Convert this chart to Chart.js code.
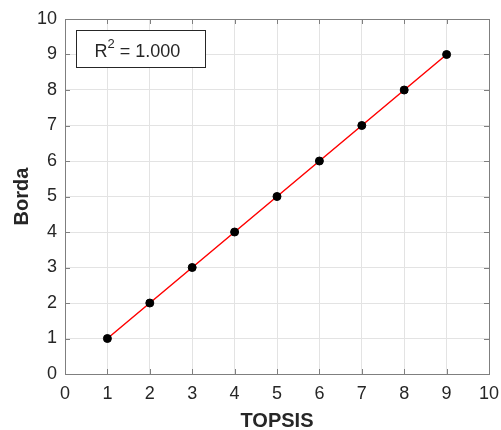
<!DOCTYPE html>
<html>
<head>
<meta charset="utf-8">
<script src="https://cdn.jsdelivr.net/npm/chart.js@4"></script>
<style>
  body { margin: 0; background: #fff; }
  #wrap { width: 501px; height: 430px; }
</style>
</head>
<body>
<div id="wrap"><canvas id="myChart" width="501" height="430"></canvas></div>
<script>
// data
const topsis = [1, 2, 3, 4, 5, 6, 7, 8, 9];
const borda = [1, 2, 3, 4, 5, 6, 7, 8, 9];
const axisTicks = [0, 1, 2, 3, 4, 5, 6, 7, 8, 9, 10];
const r2Label = '1.000';

const points = topsis.map(function (x, i) {
  return { x: x, y: borda[i] };
});

const fontFamily = '"Liberation Sans", Arial, sans-serif';
const axisGray = '#7f7f7f';
const labelColor = '#262626';

// MATLAB-ish box: inward ticks on all sides + R^2 legend box
const boxAxes = {
  id: 'boxAxes',
  afterDatasetsDraw(chart) {
    const ctx = chart.ctx;
    const a = chart.chartArea;
    const xs = chart.scales.x;
    const ys = chart.scales.y;
    const len = 5;
    ctx.save();
    ctx.strokeStyle = axisGray;
    ctx.lineWidth = 1;
    ctx.beginPath();
    axisTicks.forEach(function (v) {
      const px = Math.round(xs.getPixelForValue(v)) + 0.5;
      ctx.moveTo(px, a.bottom);
      ctx.lineTo(px, a.bottom - len);
      ctx.moveTo(px, a.top);
      ctx.lineTo(px, a.top + len);
      const py = Math.round(ys.getPixelForValue(v)) + 0.5;
      ctx.moveTo(a.left, py);
      ctx.lineTo(a.left + len, py);
      ctx.moveTo(a.right, py);
      ctx.lineTo(a.right - len, py);
    });
    ctx.stroke();
    ctx.strokeRect(Math.round(a.left) + 0.5, Math.round(a.top) + 0.5,
      Math.round(a.right - a.left), Math.round(a.bottom - a.top));

    // R^2 box
    const bx = Math.round(a.left + 11) + 0.5;
    const by = Math.round(a.top + 11) + 0.5;
    const bw = 129;
    const bh = 37;
    ctx.fillStyle = '#fff';
    ctx.fillRect(bx, by, bw, bh);
    ctx.strokeStyle = '#262626';
    ctx.strokeRect(bx, by, bw, bh);

    const big = '18px ' + fontFamily;
    const small = '13px ' + fontFamily;
    let tx = bx + 18;
    const ty = by + 26.5;
    ctx.fillStyle = labelColor;
    ctx.textBaseline = 'alphabetic';
    ctx.textAlign = 'left';
    ctx.font = big;
    ctx.fillText('R', tx, ty);
    tx += ctx.measureText('R').width;
    ctx.font = small;
    ctx.fillText('2', tx, ty - 9);
    tx += ctx.measureText('2').width;
    ctx.font = big;
    ctx.fillText(' = ' + r2Label, tx, ty);
    ctx.restore();
  }
};

function fixTicks(s) {
  s.ticks = axisTicks.map(function (v) { return { value: v }; });
}

const config = {
  type: 'scatter',
  data: {
    datasets: [{
      label: 'Borda vs TOPSIS',
      data: points,
      showLine: true,
      borderColor: '#ff0000',
      borderWidth: 1.5,
      pointRadius: 4,
      pointBackgroundColor: '#000',
      pointBorderColor: '#000',
      pointBorderWidth: 1
    }]
  },
  options: {
    responsive: false,
    animation: false,
    layout: {
      padding: { left: 0, top: 19, right: 12, bottom: 0 }
    },
    plugins: {
      legend: { display: false },
      tooltip: { enabled: false }
    },
    scales: {
      x: {
        type: 'linear',
        min: 0,
        max: 10,
        afterBuildTicks: fixTicks,
        afterFit: function (s) {
          s.height = 56;
          s.paddingLeft = 0;
          s.paddingRight = 0;
        },
        ticks: {
          padding: 9,
          color: labelColor,
          font: { family: fontFamily, size: 18 }
        },
        grid: { color: '#e3e3e3', drawTicks: false },
        border: { display: false },
        title: {
          display: true,
          text: 'TOPSIS',
          color: labelColor,
          font: { family: fontFamily, size: 20, weight: 'bold' },
          padding: { top: 0, bottom: -3 }
        }
      },
      y: {
        type: 'linear',
        min: 0,
        max: 10,
        afterBuildTicks: fixTicks,
        afterFit: function (s) {
          s.width = 65;
          s.paddingTop = 0;
          s.paddingBottom = 0;
        },
        ticks: {
          padding: 8,
          color: labelColor,
          font: { family: fontFamily, size: 18 }
        },
        grid: { color: '#e3e3e3', drawTicks: false },
        border: { display: false },
        title: {
          display: true,
          text: 'Borda',
          color: labelColor,
          font: { family: fontFamily, size: 20, weight: 'bold' },
          padding: { top: 10, bottom: 0 }
        }
      }
    }
  },
  plugins: [boxAxes]
};

var myChart = new Chart(document.getElementById('myChart'), config);
</script>
</body>
</html>
